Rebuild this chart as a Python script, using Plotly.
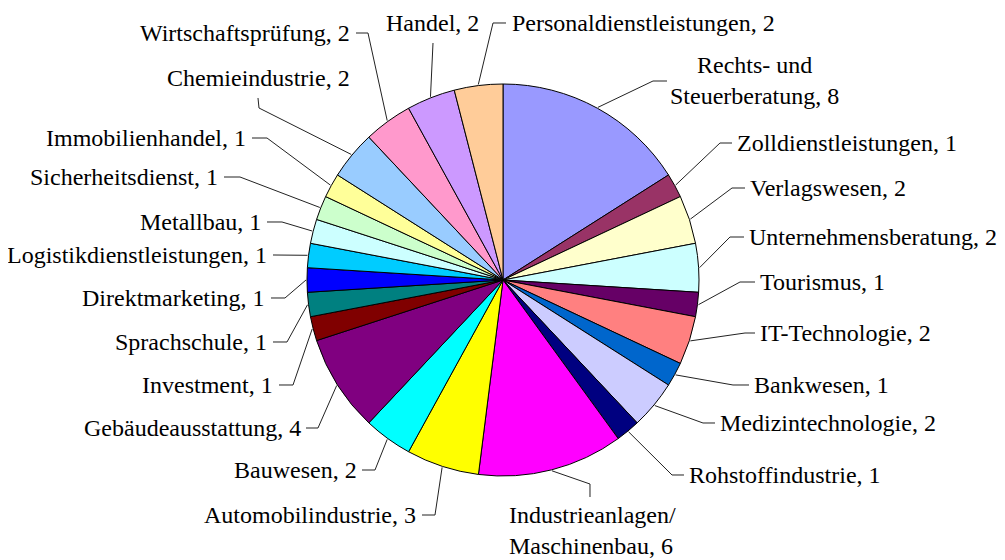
import math
import plotly.graph_objects as go

# ---- data ----
categories = [
    "Rechts- und<br>Steuerberatung", "Zolldienstleistungen", "Verlagswesen",
    "Unternehmensberatung", "Tourismus", "IT-Technologie", "Bankwesen",
    "Medizintechnologie", "Rohstoffindustrie", "Industrieanlagen/<br>Maschinenbau",
    "Automobilindustrie", "Bauwesen", "Gebäudeausstattung", "Investment",
    "Sprachschule", "Direktmarketing", "Logistikdienstleistungen", "Metallbau",
    "Sicherheitsdienst", "Immobilienhandel", "Chemieindustrie",
    "Wirtschaftsprüfung", "Handel", "Personaldienstleistungen",
]
values = [8, 1, 2, 2, 1, 2, 1, 2, 1, 6, 3, 2, 4, 1, 1, 1, 1, 1, 1, 1, 2, 2, 2, 2]
colors = [
    "#9999FF", "#993366", "#FFFFCC", "#CCFFFF", "#660066", "#FF8080", "#0066CC",
    "#CCCCFF", "#000080", "#FF00FF", "#FFFF00", "#00FFFF", "#800080", "#800000",
    "#008080", "#0000FF", "#00CCFF", "#CCFFFF", "#CCFFCC", "#FFFF99", "#99CCFF",
    "#FF99CC", "#CC99FF", "#FFCC99",
]

# ---- layout (pixels, in page coordinates) ----
OFF = 8                      # page body margin
W, H = 1005 - OFF, 560 - OFF  # figure size
CX, CY, R = 503, 280, 196
FONT = dict(family="Liberation Serif, Times New Roman, serif", size=24, color="black")

# label placement: (text x, text y, xanchor, leader via-points)
label_layout = [
    (754, 80, "center", [(653, 81), (667, 81)]),
    (735, 143, "left", [(720, 143), (732, 143)]),
    (748, 188, "left", [(732, 188), (745, 188)]),
    (747, 237, "left", [(730, 237), (744, 237)]),
    (758, 282, "left", [(740, 282), (755, 282)]),
    (758, 333, "left", [(745, 333), (755, 333)]),
    (752, 385, "left", [(733, 385), (749, 385)]),
    (718, 423, "left", [(703, 423), (715, 423)]),
    (687, 475, "left", [(672, 475), (684, 475)]),
    (507, 530, "left", [(590, 484), (590, 497)]),
    (418, 515, "right", [(435, 515), (422, 515)]),
    (359, 470, "right", [(375, 470), (362, 470)]),
    (303, 428, "right", [(318, 428), (306, 428)]),
    (275, 385, "right", [(293, 385), (279, 385)]),
    (269, 342, "right", [(287, 342), (273, 342)]),
    (267, 298, "right", [(285, 298), (271, 298)]),
    (269, 255, "right", [(273, 255)]),
    (263, 222, "right", [(282, 222), (267, 222)]),
    (220, 177, "right", [(240, 177), (224, 177)]),
    (248, 138, "right", [(267, 138), (252, 138)]),
    (259, 78, "center", [(259, 108), (258, 98)]),
    (352, 33, "right", [(368, 33), (356, 33)]),
    (432, 23, "center", [(433, 43)]),
    (510, 23, "left", [(493, 23), (506, 23)]),
]

def px(x):
    return (x - OFF) / W

def py(y):
    return 1 - (y - OFF) / H

fig = go.Figure()
fig.add_trace(go.Pie(
    labels=categories,
    values=values,
    marker=dict(colors=colors, line=dict(color="black", width=1)),
    sort=False,
    direction="clockwise",
    rotation=0,
    textinfo="none",
    hoverinfo="label+value",
    showlegend=False,
    domain=dict(x=[px(CX - R), px(CX + R)], y=[py(CY + R), py(CY - R)]),
))

total = sum(values)
cum = 0
annotations = []
shapes = []
for cat, v, (tx, ty, anchor, via) in zip(categories, values, label_layout):
    mid = (cum + v / 2) / total * 2 * math.pi
    cum += v
    ex = CX + (R + 1) * math.sin(mid)
    ey = CY - (R + 1) * math.cos(mid)
    pts = [(ex, ey)] + via
    path = "M " + " L ".join(f"{px(x):.5f},{py(y):.5f}" for x, y in pts)
    shapes.append(dict(type="path", xref="paper", yref="paper", path=path,
                       line=dict(color="#222222", width=1)))
    annotations.append(dict(
        x=px(tx), y=py(ty), xref="paper", yref="paper",
        text=f"{cat}, {v}", showarrow=False,
        xanchor=anchor, yanchor="middle",
        align="center" if anchor == "center" else anchor,
        font=FONT,
    ))

fig.update_layout(
    width=W, height=H,
    margin=dict(l=0, r=0, t=0, b=0),
    paper_bgcolor="white",
    plot_bgcolor="white",
    annotations=annotations,
    shapes=shapes,
)

fig.write_html("out.html")
